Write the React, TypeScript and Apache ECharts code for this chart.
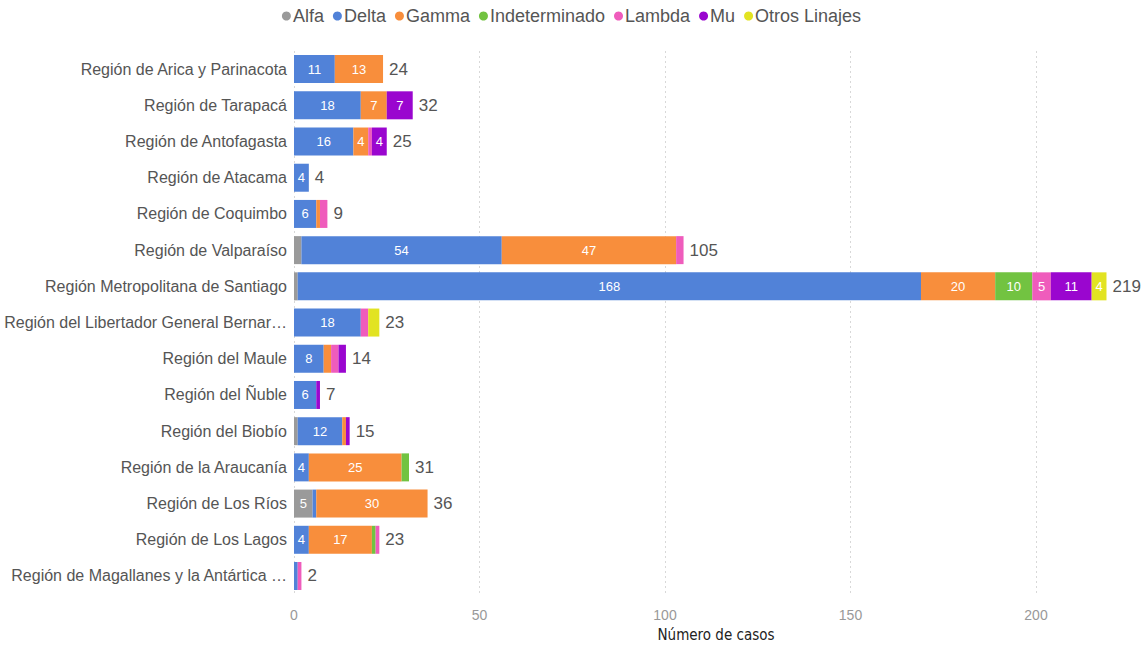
import React, { useEffect, useRef } from "react";
import * as echarts from "echarts";

const regions = [
  "Región de Arica y Parinacota",
  "Región de Tarapacá",
  "Región de Antofagasta",
  "Región de Atacama",
  "Región de Coquimbo",
  "Región de Valparaíso",
  "Región Metropolitana de Santiago",
  "Región del Libertador General Bernar…",
  "Región del Maule",
  "Región del Ñuble",
  "Región del Biobío",
  "Región de la Araucanía",
  "Región de Los Ríos",
  "Región de Los Lagos",
  "Región de Magallanes y la Antártica …",
];

const alfa = [0, 0, 0, 0, 0, 2, 1, 0, 0, 0, 1, 0, 5, 0, 0];
const delta = [11, 18, 16, 4, 6, 54, 168, 18, 8, 6, 12, 4, 1, 4, 1];
const gamma = [13, 7, 4, 0, 1, 47, 20, 0, 2, 0, 1, 25, 30, 17, 0];
const indeterminado = [0, 0, 0, 0, 0, 0, 10, 0, 0, 0, 0, 2, 0, 1, 0];
const lambda = [0, 0, 1, 0, 2, 2, 5, 2, 2, 0, 0, 0, 0, 1, 1];
const mu = [0, 7, 4, 0, 0, 0, 11, 0, 2, 1, 1, 0, 0, 0, 0];
const otros = [0, 0, 0, 0, 0, 0, 4, 3, 0, 0, 0, 0, 0, 0, 0];

const seriesNames = ["Alfa", "Delta", "Gamma", "Indeterminado", "Lambda", "Mu", "Otros Linajes"];
const seriesData = [alfa, delta, gamma, indeterminado, lambda, mu, otros];
const colors = ["#9a9a9a", "#5182d8", "#f88e3c", "#72c341", "#ef5cbc", "#9a06cf", "#e2e322"];

const totals = regions.map((_, i) => seriesData.reduce((s, arr) => s + arr[i], 0));

const FONT = "Liberation Sans, Arial, sans-serif";

export default function App() {
  const ref = useRef<HTMLDivElement>(null);
  useEffect(() => {
    document.body.style.margin = "0";
    const chart = echarts.init(ref.current!, null, { renderer: "svg" });
    const barW = 28;
    const stacked = seriesNames.map((name, k) => ({
      name,
      type: "bar",
      stack: "total",
      barWidth: barW,
      clip: false,
      data: seriesData[k],
      itemStyle: { color: colors[k] },
      label: {
        show: true,
        position: "inside",
        color: "#ffffff",
        fontSize: 13,
        fontFamily: FONT,
        formatter: (p: any) => (p.value >= 4 ? String(p.value) : ""),
      },
    }));
    chart.setOption({
      animation: false,
      color: colors,
      legend: {
        data: seriesNames,
        top: 2,
        left: "center",
        icon: "circle",
        itemWidth: 9,
        itemHeight: 9,
        itemGap: 9,
        textStyle: { color: "#555", fontSize: 18, fontFamily: FONT, padding: [0, 0, 0, -3] },
      },
      grid: { left: 294, right: 107, top: 51, bottom: 48, containLabel: false },
      xAxis: {
        type: "value",
        min: 0,
        max: 200,
        interval: 50,
        name: "Número de casos",
        nameLocation: "middle",
        nameGap: 32,
        nameTextStyle: {
          color: "#222",
          fontSize: 15,
          fontFamily: "DejaVu Sans Condensed, DejaVu Sans, sans-serif",
          padding: [0, 0, 0, 102],
        },
        axisLine: { show: false },
        axisTick: { show: false },
        axisLabel: { color: "#999", fontSize: 14, fontFamily: "Liberation Sans Narrow, Liberation Sans, sans-serif", margin: 14 },
        splitLine: { show: true, lineStyle: { color: "#d8d8d8", type: [2, 3] } },
      },
      yAxis: {
        type: "category",
        data: regions,
        inverse: true,
        axisLine: { show: false },
        axisTick: { show: false },
        axisLabel: { color: "#555", fontSize: 16, fontFamily: FONT, margin: 7 },
      },
      series: [
        ...stacked,
        {
          name: "Total",
          type: "bar",
          barWidth: barW,
          barGap: "-100%",
          clip: false,
          silent: true,
          z: 0,
          data: totals,
          itemStyle: { color: "rgba(0,0,0,0)" },
          label: {
            show: true,
            position: "right",
            distance: 6,
            color: "#555",
            fontSize: 17,
            fontFamily: FONT,
          },
        },
      ],
    });
    return () => chart.dispose();
  }, []);
  return <div ref={ref} style={{ width: 1143, height: 647 }} />;
}
